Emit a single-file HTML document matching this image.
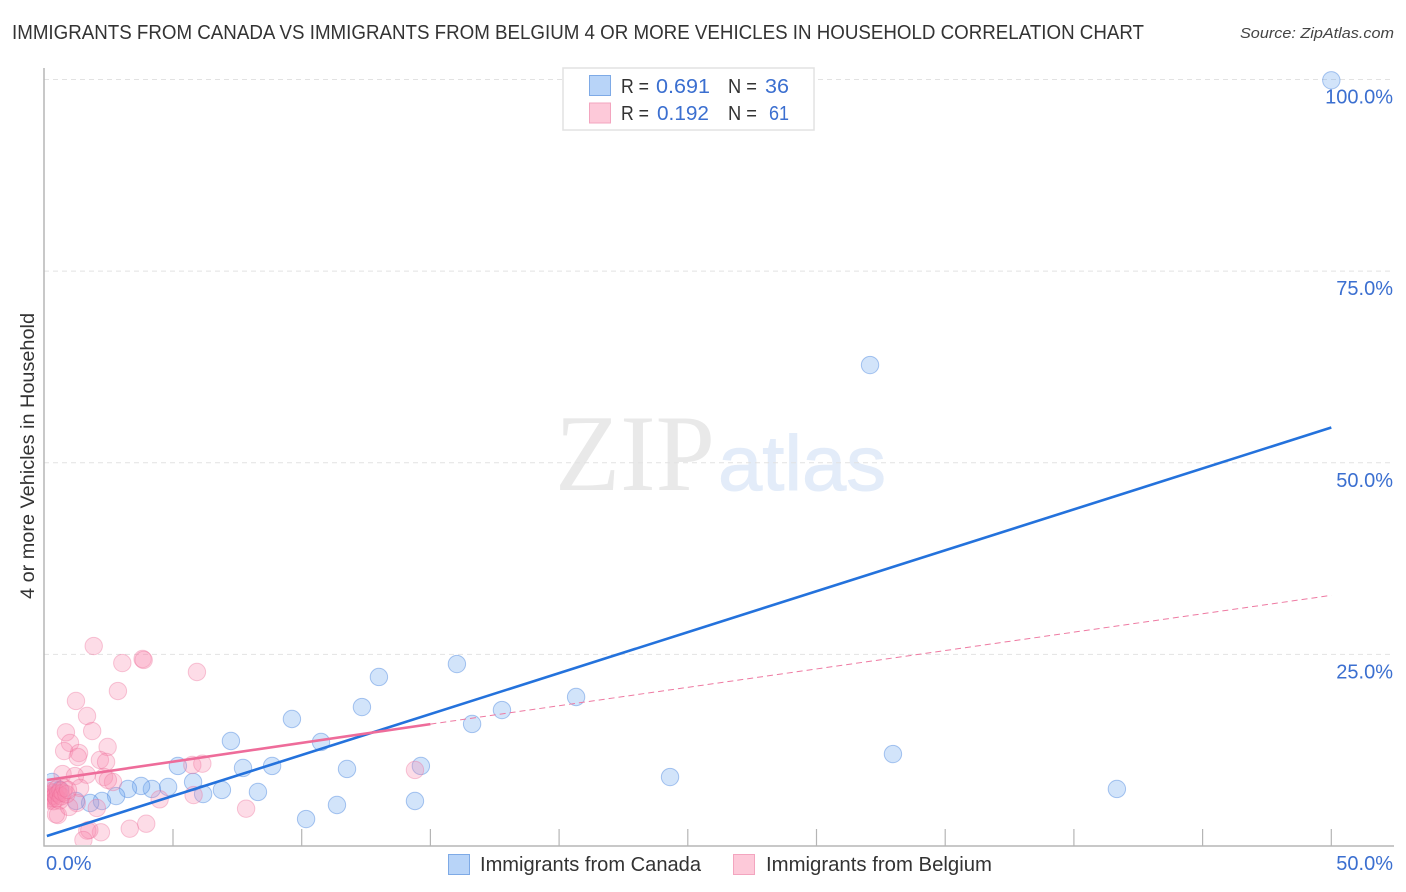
<!DOCTYPE html>
<html lang="en">
<head>
<meta charset="utf-8">
<title>Immigrants from Canada vs Immigrants from Belgium 4 or More Vehicles in Household Correlation Chart</title>
<style>
html,body{margin:0;padding:0;background:#fff;width:1406px;height:892px;overflow:hidden}
svg{display:block;font-family:"Liberation Sans",sans-serif;filter:blur(.35px)}
</style>
</head>
<body>
<svg id="chart" width="1406" height="892" viewBox="0 0 1406 892" xmlns="http://www.w3.org/2000/svg">
  <defs><clipPath id="plot-clip"><rect x="47" y="60" width="1350" height="785"/></clipPath></defs>
  <text x="12" y="39" font-size="20" fill="#333" textLength="1132" lengthAdjust="spacingAndGlyphs">IMMIGRANTS FROM CANADA VS IMMIGRANTS FROM BELGIUM 4 OR MORE VEHICLES IN HOUSEHOLD CORRELATION CHART</text>
  <text x="1394" y="38" font-size="15" font-style="italic" fill="#444" text-anchor="end" textLength="154" lengthAdjust="spacingAndGlyphs">Source: ZipAtlas.com</text>
  <g>
    <text x="555" y="490" font-family="'Liberation Serif',serif" font-size="109" fill="#e9e9e9" textLength="160" lengthAdjust="spacingAndGlyphs">ZIP</text>
    <text x="718" y="490" font-size="78" fill="#e3ecf9" stroke="#e3ecf9" stroke-width="1" textLength="168" lengthAdjust="spacingAndGlyphs">atlas</text>
  </g>
  <g id="grid"></g>
  <g id="axes"></g>
  <g id="canada-points" clip-path="url(#plot-clip)"></g>
  <g id="belgium-points" clip-path="url(#plot-clip)"></g>
  <g id="trends"></g>
  <g id="tick-labels"></g>
  <text transform="translate(34,456) rotate(-90)" font-size="19.5" fill="#333" text-anchor="middle" textLength="286" lengthAdjust="spacingAndGlyphs">4 or more Vehicles in Household</text>

  <g>
    <rect x="563" y="68" width="251" height="62" fill="#fff" stroke="#e2e2e2" stroke-width="1.5"/>
    <rect x="589.5" y="75.5" width="21" height="20" fill="#b8d4f8" stroke="#7eaae6" stroke-width="1"/>
    <rect x="589.5" y="103" width="21" height="20" fill="#fdc9d9" stroke="#f3a5bf" stroke-width="1"/>
    <g font-size="20.5">
      <text x="621" y="93" fill="#333" textLength="28" lengthAdjust="spacingAndGlyphs">R =</text>
      <text x="656" y="93" fill="#3b6fd0" textLength="54" lengthAdjust="spacingAndGlyphs">0.691</text>
      <text x="728" y="93" fill="#333" textLength="29" lengthAdjust="spacingAndGlyphs">N =</text>
      <text x="765" y="93" fill="#3b6fd0" textLength="24" lengthAdjust="spacingAndGlyphs">36</text>
      <text x="621" y="120" fill="#333" textLength="28" lengthAdjust="spacingAndGlyphs">R =</text>
      <text x="657" y="120" fill="#3b6fd0" textLength="52" lengthAdjust="spacingAndGlyphs">0.192</text>
      <text x="728" y="120" fill="#333" textLength="29" lengthAdjust="spacingAndGlyphs">N =</text>
      <text x="769" y="120" fill="#3b6fd0" textLength="20" lengthAdjust="spacingAndGlyphs">61</text>
    </g>
  </g>

  <g>
    <rect x="448.5" y="854.5" width="21" height="20" fill="#b8d4f8" stroke="#7eaae6" stroke-width="1"/>
    <text x="480" y="871" font-size="20" fill="#333" textLength="221" lengthAdjust="spacingAndGlyphs">Immigrants from Canada</text>
    <rect x="733.5" y="854.5" width="21" height="20" fill="#fdc9d9" stroke="#f3a5bf" stroke-width="1"/>
    <text x="766" y="871" font-size="20" fill="#333" textLength="226" lengthAdjust="spacingAndGlyphs">Immigrants from Belgium</text>
  </g>
</svg>
<script>
const canadaX = [50.0,32.08,16.03,13.0,9.62,12.34,7.25,10.75,17.78,16.62,20.66,32.97,14.63,11.76,8.85,7.72,5.19,5.78,24.31,41.67,14.4,11.37,10.17,8.3,6.9,6.17,4.81,4.18,3.76,3.25,2.79,2.24,1.78,1.23,0.3,0.61];
const canadaY = [99.9,62.75,23.74,22.05,16.57,18.13,13.7,13.57,17.74,15.92,19.44,12.0,10.44,10.05,10.44,10.18,10.44,8.35,9.0,7.44,5.87,5.35,3.52,7.05,7.31,6.78,7.7,7.44,7.83,7.44,6.52,5.87,5.61,5.87,8.35,7.31];
const belgiumX = [1.92,3.03,3.82,3.86,5.93,2.86,1.23,1.66,1.86,0.84,1.0,0.77,2.46,1.35,1.3,2.16,2.4,5.75,6.14,1.65,0.71,1.19,2.32,2.67,2.47,14.4,5.8,4.48,7.84,3.96,3.32,2.2,1.67,1.75,1.52,0.53,0.45,2.04,1.39,1.26,0.96,0.13,0.16,0.19,0.19,0.25,0.31,0.34,0.36,0.39,0.42,0.48,0.51,0.54,0.6,0.63,0.66,0.72,0.78,0.86,0.92];
const belgiumY = [26.09,23.87,24.4,24.27,22.7,20.22,18.92,16.96,15.0,14.83,13.44,12.39,12.92,12.13,11.61,11.22,10.96,10.57,10.74,9.3,9.39,9.13,9.0,8.35,8.61,9.92,6.65,6.09,4.87,2.91,2.26,1.79,2.0,2.09,0.78,4.04,4.14,4.96,7.57,5.61,5.09,6.67,6.21,7.13,5.94,6.48,6.21,6.95,5.85,7.31,6.57,6.21,7.49,6.85,5.94,7.22,6.48,6.95,7.58,6.76,7.31];
const canadaTrendX = [0.1,50];
const canadaTrendY = [1.3,54.6];
const belgiumSolidX = [0.1,15];
const belgiumSolidY = [8.6,15.9];
const belgiumDashX = [15,50];
const belgiumDashY = [15.9,32.7];
const yTicks = [100,75,50,25];
const yTickLabels = ["100.0%","75.0%","50.0%","25.0%"];
const xTicks = [5,10,15,20,25,30,35,40,45,50];
const xEndLabels = ["0.0%","50.0%"];

const NS = "http://www.w3.org/2000/svg";
const sx = v => 44.3 + v * 25.74;
const sy = v => 846 - v * 7.665;
function mk(tag, parent, attrs) {
  const el = document.createElementNS(NS, tag);
  for (const k in attrs) el.setAttribute(k, attrs[k]);
  document.getElementById(parent).appendChild(el);
  return el;
}

yTicks.forEach(t => {
  const g = mk("line", "grid", {x1: 44, x2: 1394, y1: sy(t), y2: sy(t), stroke: "#e2e2e2", "stroke-width": 1, "stroke-dasharray": "5 4"});
  
  
});

const yAxis = mk("line", "axes", {x1: 44, x2: 44, y1: 68, y2: 846.5, stroke: "#b5b5b5", "stroke-width": 1.5});


const xAxis = mk("line", "axes", {x1: 43.5, x2: 1394, y1: 846, y2: 846, stroke: "#b5b5b5", "stroke-width": 1.5});


xTicks.forEach(t => {
  const k = mk("line", "axes", {x1: sx(t), x2: sx(t), y1: 829, y2: 846, stroke: "#b5b5b5", "stroke-width": 1.2});
  
  
});

canadaX.forEach((x, i) => {
  const c = mk("circle", "canada-points", {cx: sx(x), cy: sy(canadaY[i]), r: 8.7, fill: "rgba(106,164,240,0.3)", stroke: "rgba(60,125,220,0.42)", "stroke-width": 1});
  
  
});
belgiumX.forEach((x, i) => {
  const c = mk("circle", "belgium-points", {cx: sx(x), cy: sy(belgiumY[i]), r: 8.7, fill: "rgba(248,140,175,0.3)", stroke: "rgba(236,105,150,0.36)", "stroke-width": 1});
  
  
});

const bDash = mk("line", "trends", {x1: sx(belgiumDashX[0]), y1: sy(belgiumDashY[0]), x2: sx(belgiumDashX[1]), y2: sy(belgiumDashY[1]), stroke: "#ee7aa2", "stroke-width": 1, "stroke-dasharray": "6 4"});


const cLine = mk("line", "trends", {x1: sx(canadaTrendX[0]), y1: sy(canadaTrendY[0]), x2: sx(canadaTrendX[1]), y2: sy(canadaTrendY[1]), stroke: "#2472dc", "stroke-width": 2.6});


const bLine = mk("line", "trends", {x1: sx(belgiumSolidX[0]), y1: sy(belgiumSolidY[0]), x2: sx(belgiumSolidX[1]), y2: sy(belgiumSolidY[1]), stroke: "#ee6c9a", "stroke-width": 2.6});



yTicks.forEach((t, i) => {
  const l = mk("text", "tick-labels", {x: 1393, y: sy(t) + 24, "font-size": 20, fill: "#3b6fd0", "text-anchor": "end"});
  l.textContent = yTickLabels[i];
  
  
});
const x0 = mk("text", "tick-labels", {x: 46, y: 870, "font-size": 20, fill: "#3b6fd0"});
x0.textContent = xEndLabels[0];


const x1 = mk("text", "tick-labels", {x: 1393, y: 870, "font-size": 20, fill: "#3b6fd0", "text-anchor": "end"});
x1.textContent = xEndLabels[1];


</script>
</body>
</html>
